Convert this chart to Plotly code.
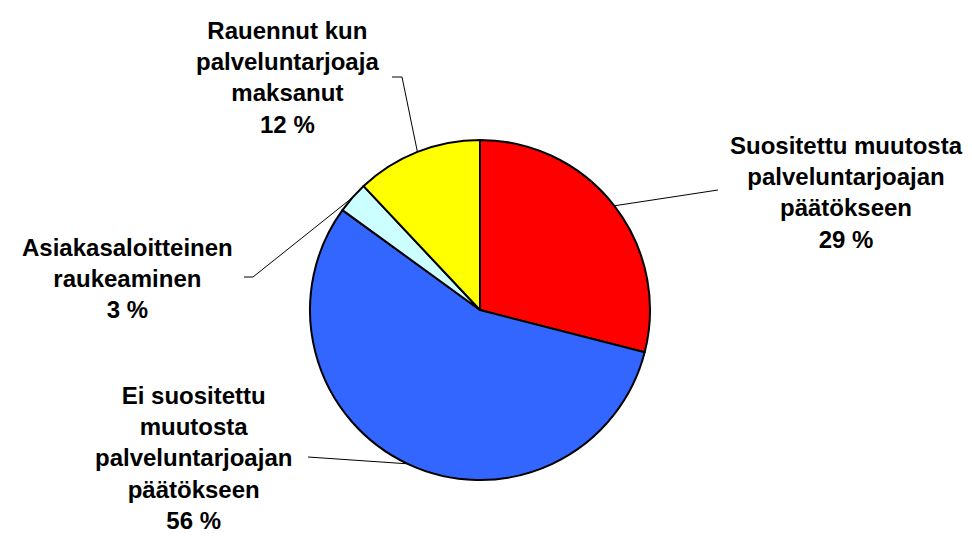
import math
import plotly.graph_objects as go

# Slice data (clockwise from 12 o'clock)
labels = ["Suositettu muutosta<br>palveluntarjoajan<br>päätökseen",
          "Ei suositettu<br>muutosta<br>palveluntarjoajan<br>päätökseen",
          "Asiakasaloitteinen<br>raukeaminen",
          "Rauennut kun<br>palveluntarjoaja<br>maksanut"]
values = [29, 56, 3, 12]
colors = ["#FF0000", "#3366FF", "#CCFFFF", "#FFFF00"]

# label centres and leader-line elbows (pixel coords of the 972x536 canvas)
label_pos = [(846, 192), (193, 458), (127, 278), (287, 77)]
elbows = [[(718, 190)], [(313, 457), (308, 457)], [(253, 277), (244, 277)], [(402, 77), (392, 77)]]

W, H = 972, 536
cx, cy, r = 480, 310, 170

fig = go.Figure()

fig.add_trace(go.Pie(
    labels=[l.replace("<br>", " ") for l in labels],
    values=values,
    sort=False,
    direction="clockwise",
    rotation=0,
    marker=dict(colors=colors, line=dict(color="black", width=2)),
    textinfo="none",
    hoverinfo="label+percent",
    showlegend=False,
    domain=dict(x=[(cx - r) / W, (cx + r) / W], y=[(H - cy - r) / H, (H - cy + r) / H]),
))

# leader lines from mid-angle of each slice
total = sum(values)
cum = 0
for i, v in enumerate(values):
    mid = (cum + v / 2) / total * 2 * math.pi
    cum += v
    sx = cx + r * math.sin(mid)
    sy = cy - r * math.cos(mid)
    xs = [sx] + [p[0] for p in elbows[i]]
    ys = [sy] + [p[1] for p in elbows[i]]
    fig.add_trace(go.Scatter(x=xs, y=ys, mode="lines", line=dict(color="black", width=1),
                             hoverinfo="skip", showlegend=False))

    pct = round(v / total * 100)
    fig.add_annotation(x=label_pos[i][0], y=label_pos[i][1], xref="x", yref="y",
                       text="<b>" + labels[i] + "<br>" + str(pct) + " %</b>",
                       showarrow=False, align="center",
                       font=dict(family="Liberation Sans, Arial", size=24, color="black"))

fig.update_layout(
    width=W, height=H,
    margin=dict(l=0, r=0, t=0, b=0),
    paper_bgcolor="white", plot_bgcolor="white",
    xaxis=dict(range=[0, W], visible=False, fixedrange=True),
    yaxis=dict(range=[H, 0], visible=False, fixedrange=True),
)

# remove the browser's default body margin so the figure sits at the top-left
fig.write_html("out.html", config={"displayModeBar": False},
               post_script="document.body.style.margin='0';")
